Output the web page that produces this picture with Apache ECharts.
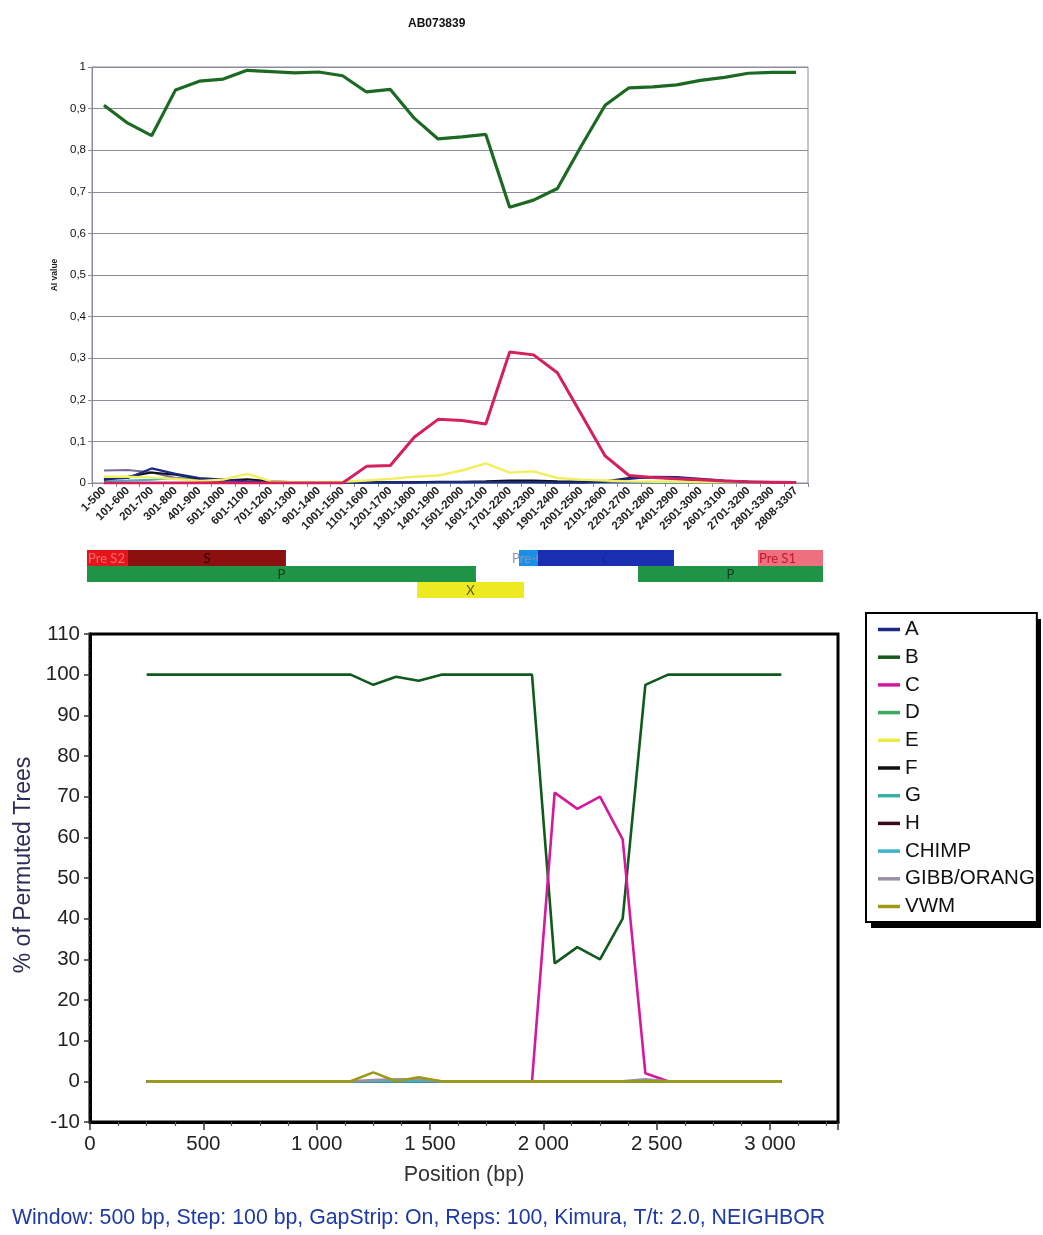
<!DOCTYPE html>
<html><head><meta charset="utf-8">
<script src="https://cdn.jsdelivr.net/npm/echarts@6/dist/echarts.min.js"></script>
<style>html,body{margin:0;padding:0;background:#fff}#c{width:1043px;height:1235px}</style>
</head><body><div id="c"></div>
<script>
// ---------- Top chart: AI value per window ----------
const windowLabels = ['1-500','101-600','201-700','301-800','401-900','501-1000','601-1100','701-1200','801-1300','901-1400','1001-1500','1101-1600','1201-1700','1301-1800','1401-1900','1501-2000','1601-2100','1701-2200','1801-2300','1901-2400','2001-2500','2101-2600','2201-2700','2301-2800','2401-2900','2501-3000','2601-3100','2701-3200','2801-3300','2808-3307'];
const aiB = [0.908,0.865,0.835,0.945,0.966,0.971,0.992,0.989,0.986,0.988,0.979,0.94,0.946,0.877,0.827,0.832,0.838,0.663,0.68,0.708,0.81,0.908,0.95,0.952,0.957,0.968,0.975,0.985,0.987,0.987];
const aiC = [0,0,0,0,0,0,0,0,0,0,0,0.04,0.042,0.11,0.153,0.15,0.142,0.315,0.308,0.265,0.165,0.065,0.018,0.013,0.01,0.008,0.005,0.003,0.002,0.001];
const aiE = [0.015,0.015,0.013,0.01,0.005,0.008,0.022,0.004,0.002,0.002,0.003,0.006,0.01,0.015,0.018,0.03,0.047,0.025,0.028,0.012,0.008,0.006,0.004,0.003,0.003,0.002,0.002,0.002,0.002,0.002];
const aiA = [0.01,0.012,0.035,0.022,0.012,0.008,0.004,0.002,0.001,0.001,0.001,0.001,0.001,0.001,0.002,0.002,0.002,0.002,0.002,0.001,0.001,0.003,0.01,0.015,0.014,0.01,0.006,0.003,0.002,0.001];
const aiF = [0.008,0.015,0.025,0.02,0.01,0.006,0.009,0.004,0.002,0.002,0.002,0.002,0.002,0.002,0.003,0.003,0.004,0.006,0.006,0.004,0.003,0.004,0.012,0.013,0.01,0.006,0.004,0.003,0.002,0.001];
const aiGibb = [0.03,0.031,0.025,0.012,0.006,0.004,0.003,0.002,0.002,0.002,0.002,0.002,0.002,0.002,0.002,0.002,0.002,0.002,0.002,0.002,0.002,0.002,0.002,0.002,0.002,0.002,0.002,0.002,0.002,0.002];
const aiChimp = [0.005,0.006,0.008,0.012,0.01,0.004,0.002,0.001,0.001,0.001,0.001,0.001,0.001,0.001,0.001,0.001,0.001,0.001,0.001,0.001,0.001,0.001,0.001,0.001,0.001,0.001,0.001,0.001,0.001,0.001];

// ---------- Gene map ----------
const geneNames = ['Pre S2','S','P','X','Pre-C','C','Pre S1','P'];
const geneStart = [0,179,0,1442,1887,1970,2931,2407];
const geneEnd   = [179,869,1699,1909,1970,2564,3215,3215];
const geneRow   = [0,0,1,2,0,0,0,1];
const geneStyle = {
  'Pre S2': {fill:'#e3161c', text:'#ff6a6a', align:'left'},
  'S': {fill:'#8c1010', text:'#2a0505', align:'center'},
  'P': {fill:'#1f9447', text:'#0c3a18', align:'center'},
  'X': {fill:'#eeea22', text:'#5a5a10', align:'center'},
  'Pre-C': {fill:'#1a8fe6', text:'#8a96b4', align:'left'},
  'C': {fill:'#1a2fb2', text:'#16269e', align:'center'},
  'Pre S1': {fill:'#ee6f80', text:'#c0182a', align:'left'}
};

// ---------- Bottom chart: bootscan ----------
const positions = [250,350,450,550,650,750,850,950,1050,1150,1250,1350,1450,1550,1650,1750,1850,1950,2050,2150,2250,2350,2450,2550,2650,2750,2850,2950,3050];
const bsA = [0,0,0,0,0,0,0,0,0,0,0,0,0,0,0,0,0,0,0,0,0,0,0,0,0,0,0,0,0];
const bsB = [100,100,100,100,100,100,100,100,100,100,97.5,99.5,98.5,100,100,100,100,100,29,33,30,40,97.5,100,100,100,100,100,100];
const bsC = [0,0,0,0,0,0,0,0,0,0,0,0,0,0,0,0,0,0,71,67,70,59.5,2,0,0,0,0,0,0];
const bsD = [0,0,0,0,0,0,0,0,0,0,0,0,0,0,0,0,0,0,0,0,0,0,0,0,0,0,0,0,0];
const bsE = [0,0,0,0,0,0,0,0,0,0,0,0,0,0,0,0,0,0,0,0,0,0,0,0,0,0,0,0,0];
const bsF = [0,0,0,0,0,0,0,0,0,0,0,0,0,0,0,0,0,0,0,0,0,0,0,0,0,0,0,0,0];
const bsG = [0,0,0,0,0,0,0,0,0,0,0,0,0,0,0,0,0,0,0,0,0,0,0,0,0,0,0,0,0];
const bsH = [0,0,0,0,0,0,0,0,0,0,0,0,0,0,0,0,0,0,0,0,0,0,0,0,0,0,0,0,0];
const bsChimp = [0,0,0,0,0,0,0,0,0,0,0,0,0,0,0,0,0,0,0,0,0,0,0,0,0,0,0,0,0];
const bsGibb = [0,0,0,0,0,0,0,0,0,0,0.3,0.5,0.5,0,0,0,0,0,0,0,0,0,0.5,0,0,0,0,0,0];
const bsVwm = [0,0,0,0,0,0,0,0,0,0,2.2,0,1,0,0,0,0,0,0,0,0,0,0,0,0,0,0,0,0];
const bsNames = ['A','B','C','D','E','F','G','H','CHIMP','GIBB/ORANG','VWM'];
const bsValues = [bsA,bsB,bsC,bsD,bsE,bsF,bsG,bsH,bsChimp,bsGibb,bsVwm];
const bsColors = ['#1a2a86','#105a1c','#d6189c','#3caa5c','#ecec40','#111111','#36b0a0','#3a0a18','#3ab4c8','#9890a4','#9c9a14'];

const FONT = 'Liberation Sans, Arial, sans-serif';
const chart = echarts.init(document.getElementById('c'), null, {renderer:'canvas'});

const series = [];
const topSmall = [['AI-CHIMP',aiChimp,'#3ab4c8',2],['AI-GIBB',aiGibb,'#7a6a9c',2],['AI-F',aiF,'#111',2],['AI-A',aiA,'#1a2a86',2.2],['AI-E',aiE,'#f2ee5c',2.4],['AI-C',aiC,'#d4205c',3],['AI-B',aiB,'#1c6a22',3.2]];
topSmall.forEach(([n,d,c,w]) => series.push({name:n,type:'line',xAxisIndex:0,yAxisIndex:0,data:d,symbol:'none',lineStyle:{color:c,width:w},itemStyle:{color:c},z:3}));
series.push({
  name:'genes', type:'custom', xAxisIndex:2, yAxisIndex:2,
  data: geneNames.map((g,i)=>[geneStart[i], geneEnd[i], geneRow[i], g]),
  renderItem: function(params, api){
    const name = geneNames[params.dataIndex];
    const st = geneStyle[name];
    const a = api.coord([api.value(0), api.value(2)]);
    const b = api.coord([api.value(1), api.value(2)]);
    const h = api.size([0,1])[1];
    const tx = st.align==='left' ? a[0] + (name==='Pre-C' ? -7 : 1) : (a[0]+b[0])/2;
    return {type:'group', children:[
      {type:'rect', shape:{x:a[0], y:a[1]-h/2, width:b[0]-a[0], height:h}, style:{fill:st.fill}},
      {type:'text', style:{x:tx, y:a[1]+1, text:name, fill:st.text, font:'13px Lato, sans-serif', textAlign:st.align, textVerticalAlign:'middle'}}
    ]};
  }
});
bsNames.forEach((n,i)=>series.push({name:n,type:'line',xAxisIndex:1,yAxisIndex:1,
  data: positions.map((p,j)=>[p,bsValues[i][j]]), symbol:'none',
  lineStyle:{color:bsColors[i],width:2.6}, itemStyle:{color:bsColors[i]}, z:3}));

const fmtThousands = v => { const s = String(Math.round(v)); return s.length>3 ? s.slice(0,s.length-3)+' '+s.slice(-3) : s; };

chart.setOption({
  animation:false,
  backgroundColor:'#fff',
  title:[
    {text:'AB073839', left:403, top:13, textStyle:{fontFamily:FONT, fontSize:12, fontWeight:'bold', color:'#111'}},
    {text:'Window: 500 bp, Step: 100 bp, GapStrip: On, Reps: 100, Kimura, T/t: 2.0, NEIGHBOR', left:7, top:1203,
     textStyle:{fontFamily:FONT, fontSize:21.3, fontWeight:'normal', color:'#1d3aa6'}}
  ],
  graphic:[
    {type:'rect', left:871, top:619, shape:{width:170, height:309}, style:{fill:'#000'}, z:0}
  ],
  legend:{
    data:bsNames, orient:'vertical', left:866, top:613, z:10,
    icon:'rect', itemWidth:22, itemHeight:3.5, itemGap:6.7,
    padding:[6,2,5,12],
    backgroundColor:'#fff', borderColor:'#000', borderWidth:2,
    textStyle:{fontFamily:FONT, fontSize:20.5, lineHeight:19, color:'#111'},
    selectedMode:false
  },
  grid:[
    {left:92, top:67, width:716, height:416, show:true, borderColor:'#8a8a96', borderWidth:1},
    {left:90, top:634, width:748, height:488, show:true, borderColor:'#000', borderWidth:3},
    {left:87, top:550, width:736, height:48}
  ],
  xAxis:[
    {gridIndex:0, type:'category', data:windowLabels, boundaryGap:true,
     axisLine:{lineStyle:{color:'#8a8a96'}}, axisTick:{show:true, length:4, lineStyle:{color:'#8a8a96'}},
     axisLabel:{interval:0, rotate:45, fontFamily:FONT, fontSize:11.5, fontWeight:'bold', color:'#222', margin:6}},
    {gridIndex:1, type:'value', min:0, max:3300, interval:500,
     axisLine:{onZero:false, lineStyle:{color:'#000', width:3}}, splitLine:{show:false},
     axisTick:{show:true, length:8, lineStyle:{color:'#333', width:1.5}},
     minorTick:{show:true, splitNumber:4, length:4, lineStyle:{color:'#555', width:1.2}},
     axisLabel:{fontFamily:FONT, fontSize:20.5, color:'#222', margin:12, showMaxLabel:false, formatter:fmtThousands},
     name:'Position (bp)', nameLocation:'middle', nameGap:42, nameTextStyle:{fontFamily:FONT, fontSize:21.5, color:'#333'}},
    {gridIndex:2, type:'value', min:0, max:3215, show:false}
  ],
  yAxis:[
    {gridIndex:0, type:'value', min:0, max:1, interval:0.1,
     axisLine:{show:true, lineStyle:{color:'#8a8a96'}}, axisTick:{show:true, length:4, lineStyle:{color:'#8a8a96'}},
     splitLine:{lineStyle:{color:'#8c8c9c', width:1}},
     axisLabel:{fontFamily:FONT, fontSize:11.5, color:'#111', margin:6, formatter:v=>String(Math.round(v*10)/10).replace('.',',')},
     name:'AI value', nameLocation:'middle', nameGap:30, nameTextStyle:{fontFamily:FONT, fontSize:8.5, fontWeight:'bold', color:'#222'}},
    {gridIndex:1, type:'value', min:-10, max:110, interval:10,
     axisLine:{show:true, onZero:false, lineStyle:{color:'#000', width:3}}, splitLine:{show:false},
     axisTick:{show:true, length:6, lineStyle:{color:'#333', width:1.5}},
     minorTick:{show:true, splitNumber:5, length:2, lineStyle:{color:'#555'}},
     axisLabel:{fontFamily:FONT, fontSize:20.5, color:'#222', margin:10},
     name:'% of Permuted Trees', nameLocation:'middle', nameGap:52, nameTextStyle:{fontFamily:FONT, fontSize:23, color:'#2c2c58', padding:[0,0,0,26]}},
    {gridIndex:2, type:'category', data:['0','1','2'], inverse:true, show:false}
  ],
  series: series
});
</script></body></html>
